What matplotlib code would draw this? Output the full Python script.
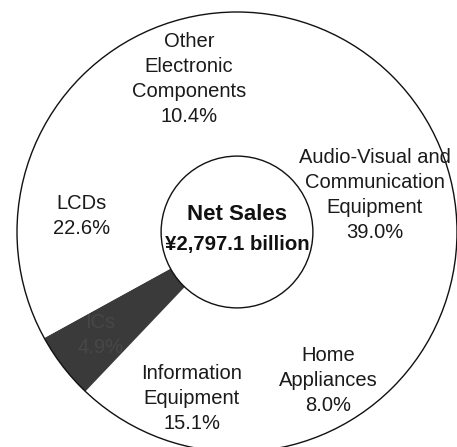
import matplotlib.pyplot as plt
from matplotlib.patches import Circle

plt.rcParams['font.family'] = ['Liberation Sans', 'DejaVu Sans']

# net sales breakdown, clockwise from 12 o'clock
segments = ["Audio-Visual and\nCommunication\nEquipment", "Home\nAppliances",
            "Information\nEquipment", "ICs", "LCDs",
            "Other\nElectronic\nComponents"]
shares = [39.0, 8.0, 15.1, 4.9, 22.6, 10.4]
colors = ["white", "white", "white", "#3a3a3a", "white", "white"]
total_label = "¥2,797.1 billion"

# label block centres in axes data units (pie radius = 1)
label_pos = [(0.627, 0.168), (0.414, -0.673), (-0.205, -0.755),
             (-0.62, -0.47), (-0.705, 0.073), (-0.218, 0.695)]
label_col = ["#1a1a1a", "#1a1a1a", "#1a1a1a", "#474747", "#1a1a1a", "#1a1a1a"]

inner = 0.345

fig = plt.figure(figsize=(4.57, 4.47), dpi=100)
ax = fig.add_axes([0, 0, 1, 1])

ax.pie(shares, colors=colors, startangle=90, counterclock=False,
       radius=1.0, wedgeprops=dict(width=1 - inner, linewidth=0))

ax.add_patch(Circle((0, 0), 1.0, fill=False, ec="#111111", lw=1.0))
ax.add_patch(Circle((0, 0), inner, fill=False, ec="#111111", lw=1.0))

for name, val, (x, y), c in zip(segments, shares, label_pos, label_col):
    ax.text(x, y, f"{name}\n{val:.1f}%", ha="center", va="center",
            fontsize=14.5, color=c, linespacing=1.4)

ax.text(0, 0.08, "Net Sales", ha="center", va="center",
        fontsize=16, fontweight="bold", color="#111111")
ax.text(0, -0.055, total_label, ha="center", va="center",
        fontsize=14.7, fontweight="bold", color="#111111")

ax.set_aspect("equal")
ax.set_xlim(-237 / 220, 220 / 220)
ax.set_ylim(-215 / 220, 232 / 220)
ax.axis("off")

fig.savefig("out.png", dpi=100, facecolor="white")
